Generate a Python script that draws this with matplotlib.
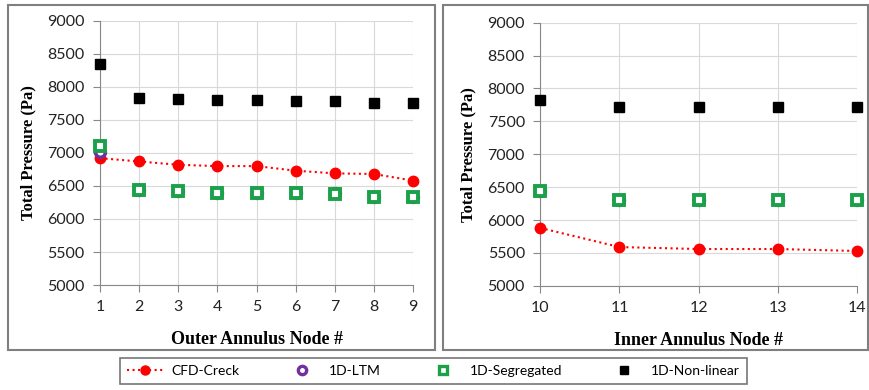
import matplotlib
matplotlib.use("Agg")
import matplotlib.pyplot as plt
from matplotlib.patches import Rectangle
from matplotlib.lines import Line2D

# outer annulus nodes
outer_nodes = [1, 2, 3, 4, 5, 6, 7, 8, 9]
outer_cfd = [6920, 6870, 6820, 6800, 6800, 6730, 6690, 6680, 6580]
outer_ltm = [7020, 6440, 6420, 6390, 6390, 6390, 6390, 6340, 6340]
outer_seg = [7110, 6440, 6420, 6390, 6390, 6390, 6380, 6340, 6340]
outer_nonlin = [8340, 7830, 7820, 7800, 7800, 7790, 7790, 7750, 7750]

# inner annulus nodes
inner_nodes = [10, 11, 12, 13, 14]
inner_cfd = [5880, 5590, 5560, 5560, 5530]
inner_ltm = [6440, 6310, 6310, 6310, 6310]
inner_seg = [6440, 6310, 6310, 6310, 6310]
inner_nonlin = [7830, 7720, 7720, 7720, 7720]

series_names = ["CFD-Creck", "1D-LTM", "1D-Segregated", "1D-Non-linear"]

tick_font = "Lato"
label_font = "Liberation Serif"

fig = plt.figure(figsize=(8.7, 3.9), dpi=100)


def draw_panel(ax, nodes, cfd, ltm, seg, nonlin, xlabel):
    ax.plot(nodes, nonlin, "s", color="black", ms=7, clip_on=False, zorder=3)
    ax.plot(nodes, cfd, ":", color="red", lw=1.5, marker="o", ms=7.5,
            clip_on=False, zorder=4)
    ax.plot(nodes, ltm, "o", mfc="white", mec="#7030a0", mew=2.6, ms=7,
            clip_on=False, zorder=5)
    ax.plot(nodes, seg, "s", mfc="white", mec="#1aa14a", mew=2.8, ms=7,
            clip_on=False, zorder=6)
    ax.set_xlim(nodes[0], nodes[-1])
    ax.set_ylim(5000, 9000)
    ax.set_xticks(nodes)
    ax.set_yticks(range(5000, 9001, 500))
    ax.grid(True, color="#d9d9d9", lw=0.8)
    ax.set_axisbelow(True)
    for s in ["top", "right"]:
        ax.spines[s].set_visible(False)
    for s in ["left", "bottom"]:
        ax.spines[s].set_color("#888888")
    ax.tick_params(axis="y", length=5, color="#888888", labelsize=11.5,
                   pad=6)
    ax.tick_params(axis="x", length=5, color="#888888", labelsize=11.5,
                   pad=6)
    for lab in ax.get_xticklabels() + ax.get_yticklabels():
        lab.set_family(tick_font)
        lab.set_color("#222222")
    ax.set_ylabel("Total Pressure (Pa)", family=label_font,
                  fontweight="bold", fontsize=12, labelpad=8)
    ax.set_xlabel(xlabel, family=label_font, fontweight="bold",
                  fontsize=13, labelpad=12)


ax1 = fig.add_axes([0.115, 0.269, 0.36, 0.678])
draw_panel(ax1, outer_nodes, outer_cfd, outer_ltm, outer_seg, outer_nonlin,
           "Outer Annulus Node #")

ax2 = fig.add_axes([0.621, 0.267, 0.364, 0.675])
draw_panel(ax2, inner_nodes, inner_cfd, inner_ltm, inner_seg, inner_nonlin,
           "Inner Annulus Node #")

# panel frames
fig.patches.append(Rectangle((8 / 870, 40 / 390), 427 / 870, 345 / 390,
                             transform=fig.transFigure, fill=False,
                             ec="#7f7f7f", lw=1.5))
fig.patches.append(Rectangle((443 / 870, 40 / 390), 425 / 870, 345 / 390,
                             transform=fig.transFigure, fill=False,
                             ec="#7f7f7f", lw=1.5))

handles = [
    Line2D([], [], ls=":", color="red", lw=1.5, marker="o", ms=6.5),
    Line2D([], [], ls="", marker="o", mfc="white", mec="#7030a0", mew=2.4,
           ms=6),
    Line2D([], [], ls="", marker="s", mfc="white", mec="#1aa14a", mew=2.4,
           ms=6),
    Line2D([], [], ls="", marker="s", color="black", ms=6),
]
leg = fig.legend(handles, series_names, loc="center",
                 bbox_to_anchor=(433.5 / 870, 19 / 390), ncol=4,
                 frameon=True, fancybox=False, columnspacing=3.2,
                 handlelength=2.6, handletextpad=0.6, borderpad=0.5,
                 prop={"family": tick_font, "size": 10})
leg.get_frame().set_edgecolor("#555555")
leg.get_frame().set_linewidth(1.2)

plt.savefig("out.png", dpi=100)
